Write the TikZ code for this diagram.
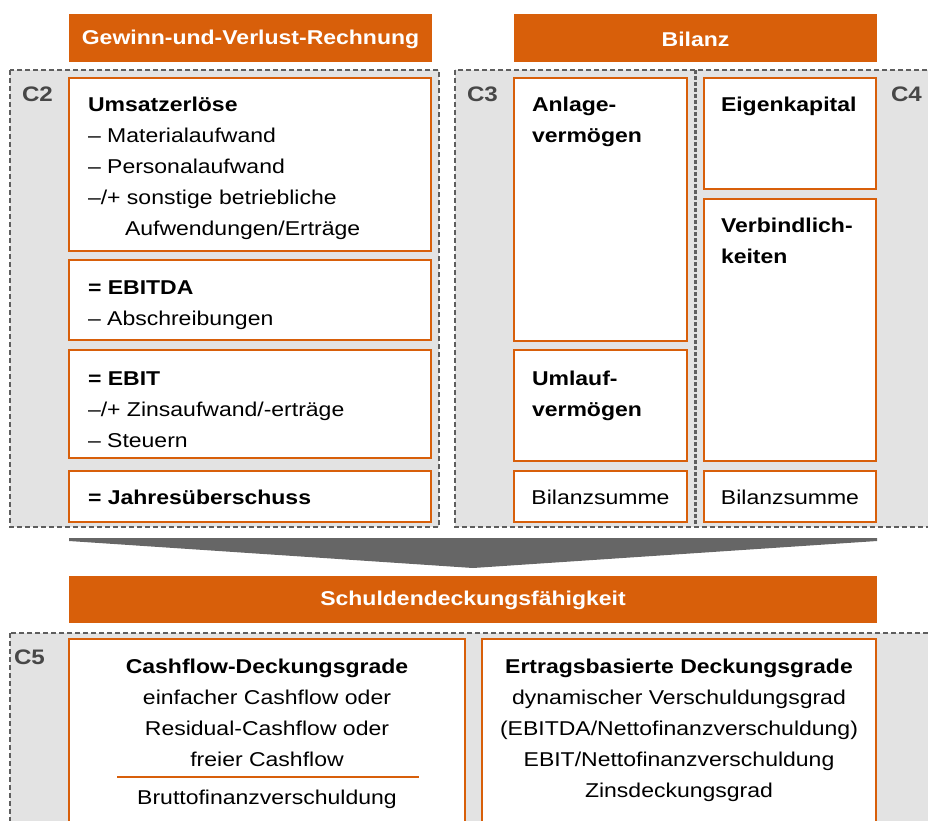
\documentclass[tikz,border=0pt]{standalone}
\usepackage{fontspec}
\setmainfont{Liberation Sans}[FakeStretch=1.15]
\begin{document}
\definecolor{accent}{HTML}{D85F0A}
\definecolor{panel}{HTML}{E3E3E3}
\definecolor{frame}{HTML}{5E5E5E}
\definecolor{funnel}{HTML}{666666}
\definecolor{tag}{HTML}{474747}
% multi-line nodes are anchored at the baseline of their last line
\begin{tikzpicture}[x=1pt,y=-1pt,
  every node/.style={inner sep=0pt, outer sep=0pt},
  txt/.style={font=\fontsize{20pt}{31pt}\selectfont, text=black},
  headbar/.style={fill=accent, draw=none},
  headtxt/.style={font=\fontsize{20pt}{24pt}\selectfont\bfseries, text=white},
  group/.style={fill=panel, draw=frame, line width=1.7pt, dash pattern=on 5pt off 3pt},
  divider/.style={draw=frame, line width=2.6pt, dash pattern=on 4pt off 2pt},
  item/.style={fill=white, draw=accent, line width=1.8pt},
  grouplabel/.style={font=\fontsize{21pt}{24pt}\selectfont\bfseries, text=tag, anchor=base west},
  leftcol/.style={txt, anchor=base west, align=left},
  midcol/.style={txt, anchor=base, align=center}]
\useasboundingbox (0,0) rectangle (928,821);

% title bars
\fill[headbar] (69,14) rectangle (432,62);
\node[headtxt] (guvhead) at (250.5,39) {Gewinn-und-Verlust-Rechnung};
\fill[headbar] (514,14) rectangle (877,62);
\node[headtxt] (bilhead) at (695.5,39) {Bilanz};

% grouping panels
\draw[group] (10,70) rectangle (439,527);
\draw[group] (455,70) rectangle (950,527);
\coordinate (divtop) at (695.5,70);
\coordinate (divbot) at (695.5,527);
\draw[divider] (divtop) -- (divbot);
\node[grouplabel] (c2) at (22,102) {C2};
\node[grouplabel] (c3) at (467,102) {C3};
\node[grouplabel] (c4) at (891,102) {C4};

% income statement
\draw[item] (69,78) rectangle (431,251);
\draw[item] (69,260) rectangle (431,340);
\draw[item] (69,350) rectangle (431,458);
\draw[item] (69,471) rectangle (431,522);
\node[leftcol] (guv1) at (88,235.5) {\textbf{Umsatzerlöse}\\– Materialaufwand\\– Personalaufwand\\–/+ sonstige betriebliche\\\hspace*{37pt}Aufwendungen/Erträge};
\node[leftcol] (guv2) at (88,325) {\textbf{= EBITDA}\\– Abschreibungen};
\node[leftcol] (guv3) at (88,447) {\textbf{= EBIT}\\–/+ Zinsaufwand/-erträge\\– Steuern};
\node[leftcol] (guv4) at (88,504.5) {\textbf{= Jahresüberschuss}};

% balance sheet, assets
\draw[item] (514,78) rectangle (687,341);
\draw[item] (514,350) rectangle (687,461);
\draw[item] (514,471) rectangle (687,522);
\node[leftcol] (av) at (532,142.5) {\textbf{Anlage-}\\\textbf{vermögen}};
\node[leftcol] (uv) at (532,416) {\textbf{Umlauf-}\\\textbf{vermögen}};
\node[midcol] (bsa) at (600.5,504.5) {Bilanzsumme};

% balance sheet, liabilities
\draw[item] (704,78) rectangle (876,189);
\draw[item] (704,199) rectangle (876,461);
\draw[item] (704,471) rectangle (876,522);
\node[leftcol] (ek) at (721,111.5) {\textbf{Eigenkapital}};
\node[leftcol] (vb) at (721,263) {\textbf{Verbindlich-}\\\textbf{keiten}};
\node[midcol] (bsp) at (790,504.5) {Bilanzsumme};

% funnel
\fill[funnel] (69,538) -- (877,538) -- (877,541) -- (473,568) -- (69,541) -- cycle;

% debt coverage
\fill[headbar] (69,576) rectangle (877,623);
\node[headtxt] (sdf) at (473,600) {Schuldendeckungsfähigkeit};
\draw[group] (10,633) rectangle (950,840);
\node[grouplabel] (c5) at (14,664) {C5};
\draw[item] (69,639) rectangle (465,840);
\draw[item] (482,639) rectangle (876,840);
\node[midcol] (cf) at (267,766) {\textbf{Cashflow-Deckungsgrade}\\einfacher Cashflow oder\\Residual-Cashflow oder\\freier Cashflow};
\coordinate (fracl) at (117,777);
\coordinate (fracr) at (419,777);
\draw[accent, line width=1.6pt] (fracl) -- (fracr);
\node[midcol] (bfv) at (267,804) {Bruttofinanzverschuldung};
\node[midcol] (eb) at (679,797) {\textbf{Ertragsbasierte Deckungsgrade}\\dynamischer Verschuldungsgrad\\(EBITDA/Nettofinanzverschuldung)\\EBIT/Nettofinanzverschuldung\\Zinsdeckungsgrad};
\end{tikzpicture}
\end{document}
